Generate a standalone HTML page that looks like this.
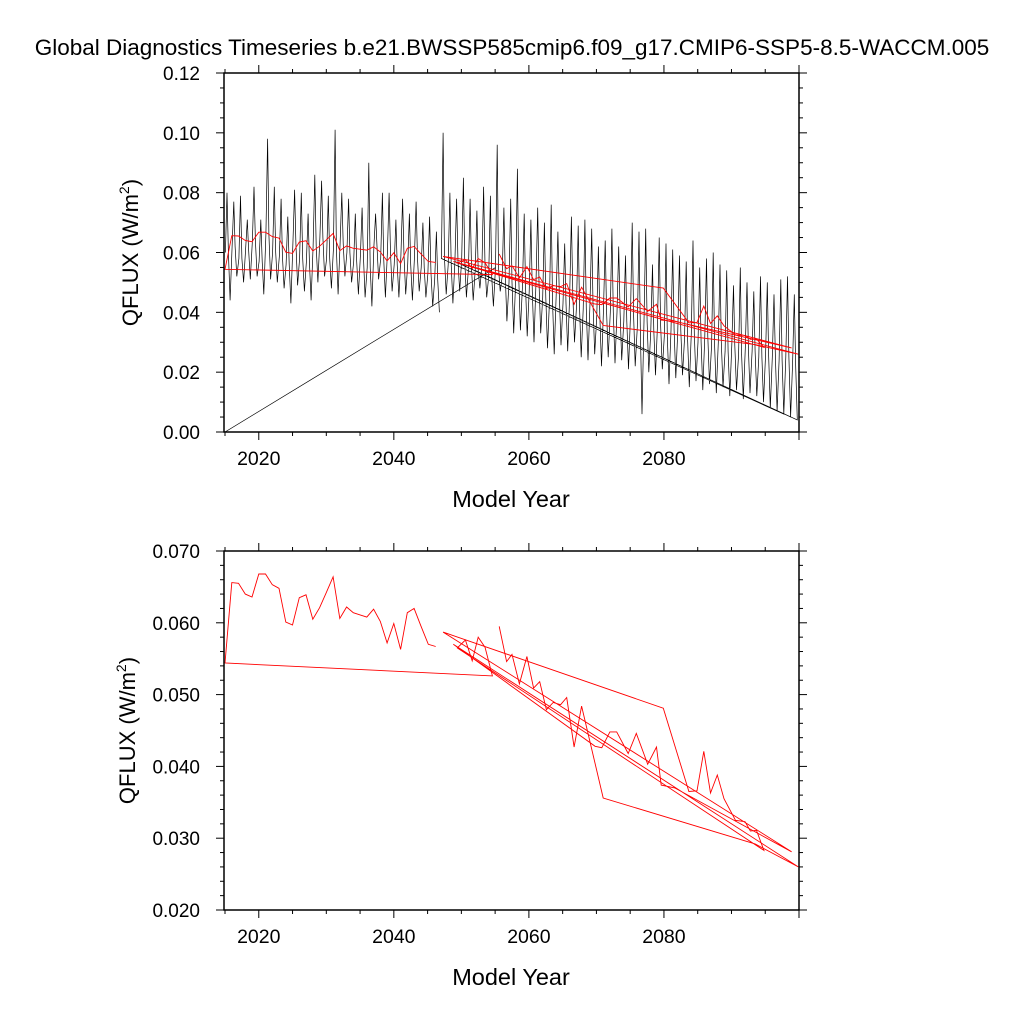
<!DOCTYPE html>
<html><head><meta charset="utf-8"><style>
body{margin:0;background:#fff;}
svg text{font-family:"Liberation Sans",Arial,sans-serif;fill:#000;}
</style></head><body>
<svg id="chart" width="1024" height="1024" viewBox="0 0 1024 1024" xmlns="http://www.w3.org/2000/svg">
<text x="512" y="55" font-size="22.5" text-anchor="middle">Global Diagnostics Timeseries b.e21.BWSSP585cmip6.f09_g17.CMIP6-SSP5-8.5-WACCM.005</text>
<g id="top"></g>
<g id="bot"></g>
</svg>
<script>
// ---- data ----
const peakVals = [.080,.077,.079,.071,.082,.071,.098,.082,.078,.072,.081,.080,.073,.086,.084,.079,.101,.080,.078,.073,.075,.090,.073,.080,.080,.071,.078,.073,.077,.070,.072,.067,
.100,.080,.078,.085,.078,.074,.082,.079,.096,.075,.078,.088,.073,.071,.075,.070,.076,.067,.063,.072,.069,.071,.068,.062,.064,.068,.062,.059,.070,.067,.068,.056,.065,.063,.061,.059,.057,.064,.055,.058,.060,.056,.054,.049,.055,.050,.047,.052,.050,.046,.051,.052,.046];
const troughVals = [.044,.052,.050,.051,.052,.046,.051,.050,.048,.043,.049,.047,.044,.050,.052,.048,.046,.052,.050,.046,.045,.042,.051,.045,.047,.045,.046,.044,.047,.045,.042,.040,
.046,.043,.047,.045,.044,.048,.045,.042,.047,.037,.033,.034,.032,.030,.033,.028,.026,.029,.027,.030,.025,.024,.026,.022,.025,.023,.024,.021,.022,.006,.020,.019,.021,.016,.018,.019,.015,.017,.014,.016,.013,.015,.012,.014,.011,.013,.012,.010,.008,.007,.006,.005,.004];
const midVals = [.060,.062,.058,.061,.064,.057,.066,.060,.059,.056,.063,.058,.057,.062,.065,.058,.061,.063,.060,.057,.059,.055,.062,.058,.060,.056,.059,.056,.058,.055,.053,.051,
.058,.056,.057,.058,.055,.054,.056,.052,.055,.052,.050,.051,.049,.047,.050,.045,.044,.046,.043,.046,.042,.041,.043,.039,.041,.040,.040,.037,.039,.035,.037,.034,.036,.032,.034,.034,.031,.033,.030,.032,.029,.030,.027,.029,.026,.028,.027,.025,.026,.025,.024,.025,.023];
const firstYear = 2015;
const blackChunks = [[2055,2099],[2049,2098],[2052,2097],[2047,2099]];
const blackStart = [2015.0, 0.0];
const redYears = [2055.6,2056.7,2057.5,2058.6,2059.7,2060.7,2061.6,2062.6,2063.6,2064.7,2065.6,2066.7,2067.8,2071.0,2093.5,2099.9,2048.8,2069.8,2070.8,2072.0,2073.0,2074.7,2075.9,2077.6,2078.9,2079.6,2081.6,2098.9,2047.3,2079.9,2083.7,2084.9,2085.9,2086.9,2087.9,2088.9,2090.6,2092.0,2092.8,2093.7,2094.8,2049.4,2050.6,2051.6,2052.5,2053.5,2054.6,2015.0,
2016,2017,2018,2019,2020,2021,2022,2023,2024,2025,2026,2027,2028,2029,2030,2031,2032,2033,2034,2035,2036,2037,2038,2039,2040,2041,2042,2043,2044,2045.1,2046.2];
const redVals = [.0595,.0546,.0556,.0515,.0553,.0509,.0518,.0479,.0489,.0486,.0496,.0427,.0484,.0356,.0292,.0260,.0570,.0428,.0426,.0448,.0448,.0418,.0446,.0403,.0427,.0374,.0370,.0281,.0587,.0481,.0365,.0366,.0421,.0363,.0388,.0355,.0325,.0323,.0310,.0311,.0283,.0565,.0576,.0547,.0580,.0566,.0526,.0544,
.0656,.0655,.0640,.0636,.0668,.0668,.0653,.0648,.0601,.0597,.0635,.0639,.0605,.0621,.0642,.0664,.0606,.0622,.0614,.0611,.0608,.0619,.0602,.0572,.0599,.0563,.0614,.0620,.0596,.0570,.0567];
const xTicks = [2020,2040,2060,2080];
const topYTicks = ["0.00","0.02","0.04","0.06","0.08","0.10","0.12"];
const botYTicks = ["0.020","0.030","0.040","0.050","0.060","0.070"];

// ---- helpers ----
const NS="http://www.w3.org/2000/svg";
const X0=224,X1=799,XMIN=2014.85,XMAX=2100;
function sx(t){return X0+(t-XMIN)/(XMAX-XMIN)*(X1-X0);}
function mk(tag,attrs,parent){const e=document.createElementNS(NS,tag);for(const k in attrs)e.setAttribute(k,attrs[k]);parent.appendChild(e);return e;}

function yearPts(y,cur){const i=y-firstYear;
  cur.push([y+0.05,midVals[i]]);cur.push([y+0.3,peakVals[i]]);cur.push([y+0.5,midVals[i]]);cur.push([y+0.75,troughVals[i]]);}
function blackPoints(){
  const segs=[];let cur=[];
  for(let y=2015;y<=2046;y++)yearPts(y,cur);
  segs.push(cur);cur=[blackStart];
  blackChunks.forEach(c=>{for(let y=c[0];y<=c[1];y++)yearPts(y,cur);});
  segs.push(cur);return segs;
}
function redSegs(){const s=[];for(let i=0;i<redYears.length;i++)s.push([redYears[i],redVals[i]]);return [s];}

function panel(g,top,bot,ymin,ymax,labels,minorStep,showBlack,ylabX){
  const sy=v=>bot-(v-ymin)/(ymax-ymin)*(bot-top);
  const clip='clip'+top;
  const cp=mk('clipPath',{id:clip},g);mk('rect',{x:X0,y:top,width:X1-X0,height:bot-top},cp);
  const dg=mk('g',{'clip-path':'url(#'+clip+')'},g);
  if(showBlack){
    blackPoints().forEach(seg=>{
      const p=mk('polyline',{points:seg.map(d=>sx(d[0]).toFixed(1)+','+sy(d[1]).toFixed(1)).join(' '),fill:'none',stroke:'#000','stroke-width':0.7},dg);
      
      
    });
  }
  redSegs().forEach(seg=>{
    const p=mk('polyline',{points:seg.map(d=>sx(d[0]).toFixed(1)+','+sy(d[1]).toFixed(1)).join(' '),fill:'none',stroke:'#ff0000','stroke-width':0.9},dg);
    
    
  });
  const fr=mk('rect',{x:X0,y:top,width:X1-X0,height:bot-top,fill:'none',stroke:'#000','stroke-width':1.5},g);
  
  
  for(let t=2015;t<=2100;t+=5){
    const x=sx(t);const maj=(t%20===0);const L=maj?8:4;
    mk('line',{x1:x,y1:bot,x2:x,y2:bot+L,stroke:'#000','stroke-width':1},g);
    mk('line',{x1:x,y1:top,x2:x,y2:top-L,stroke:'#000','stroke-width':1},g);
  }
  xTicks.forEach(t=>{const tx=mk('text',{x:sx(t),y:bot+33,'font-size':19.5,'text-anchor':'middle'},g);tx.textContent=t;
    
    });
  const majStep=(ymax-ymin)/(labels.length-1);
  for(let v=ymin;v<=ymax+1e-9;v+=minorStep){
    const y=sy(v);const r=(v-ymin)/majStep;const maj=Math.abs(r-Math.round(r))<1e-6;const L=maj?8:4;
    mk('line',{x1:X0,y1:y,x2:X0-L,y2:y,stroke:'#000','stroke-width':1},g);
    mk('line',{x1:X1,y1:y,x2:X1+L,y2:y,stroke:'#000','stroke-width':1},g);
  }
  labels.forEach((lab,i)=>{const tx=mk('text',{x:X0-24,y:sy(ymin+i*majStep)+7,'font-size':19,'text-anchor':'end'},g);tx.textContent=lab;
    
    });
  const xl=mk('text',{x:511,y:bot+75,'font-size':23.5,'text-anchor':'middle'},g);xl.textContent='Model Year';
  
  
  const cy=(top+bot)/2;
  const yl=mk('text',{x:ylabX,y:cy,'font-size':22,'text-anchor':'middle',transform:'rotate(-90 '+ylabX+' '+cy+')'},g);
  yl.innerHTML='QFLUX (W/m<tspan font-size="14" dy="-9">2</tspan><tspan dy="9">)</tspan>';
  
  
}
panel(document.getElementById('top'),73,432,0,0.12,topYTicks,0.005,true,138);
panel(document.getElementById('bot'),551,910,0.02,0.07,botYTicks,0.002,false,135);
</script>
</body></html>
